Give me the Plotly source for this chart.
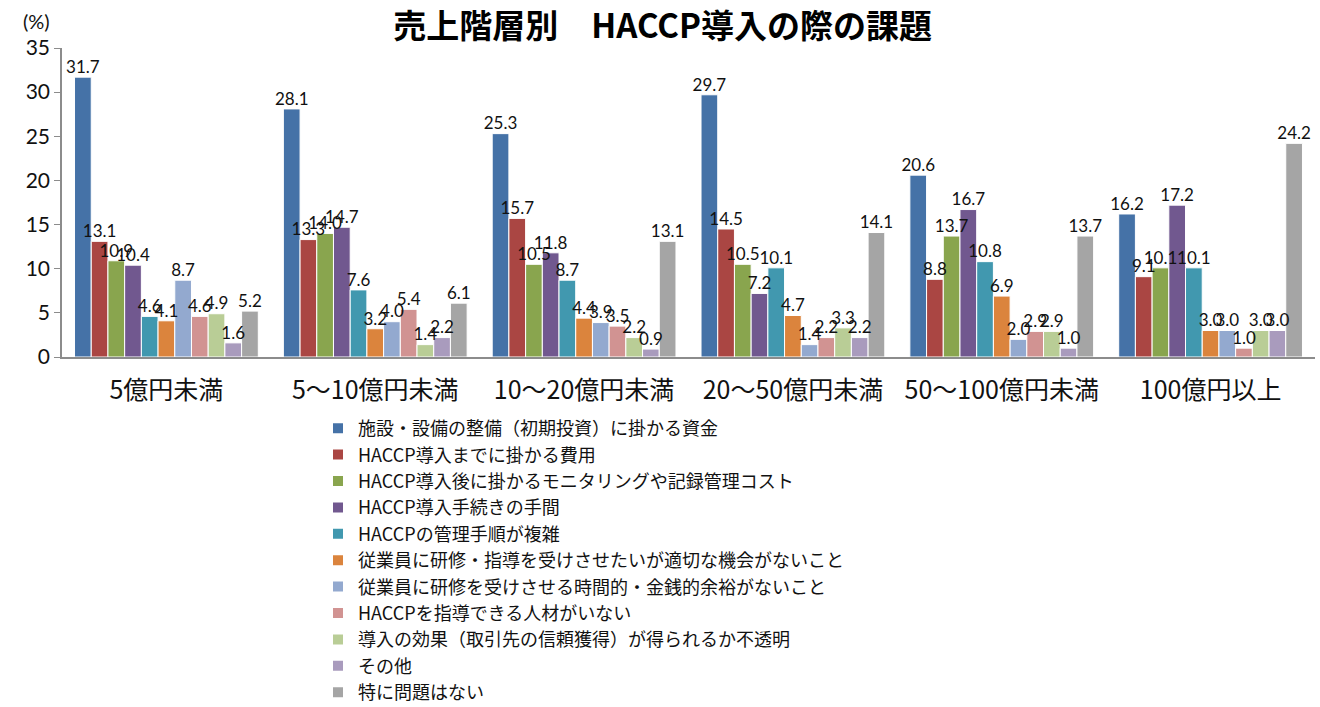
import plotly.graph_objects as go

categories = ["5億円未満", "5～10億円未満", "10～20億円未満", "20～50億円未満", "50～100億円未満", "100億円以上"]

series_names = [
    "施設・設備の整備（初期投資）に掛かる資金",
    "HACCP導入までに掛かる費用",
    "HACCP導入後に掛かるモニタリングや記録管理コスト",
    "HACCP導入手続きの手間",
    "HACCPの管理手順が複雑",
    "従業員に研修・指導を受けさせたいが適切な機会がないこと",
    "従業員に研修を受けさせる時間的・金銭的余裕がないこと",
    "HACCPを指導できる人材がいない",
    "導入の効果（取引先の信頼獲得）が得られるか不透明",
    "その他",
    "特に問題はない",
]

s1 = [31.7, 28.1, 25.3, 29.7, 20.6, 16.2]
s2 = [13.1, 13.3, 15.7, 14.5, 8.8, 9.1]
s3 = [10.9, 14.0, 10.5, 10.5, 13.7, 10.1]
s4 = [10.4, 14.7, 11.8, 7.2, 16.7, 17.2]
s5 = [4.6, 7.6, 8.7, 10.1, 10.8, 10.1]
s6 = [4.1, 3.2, 4.4, 4.7, 6.9, 3.0]
s7 = [8.7, 4.0, 3.9, 1.4, 2.0, 3.0]
s8 = [4.6, 5.4, 3.5, 2.2, 2.9, 1.0]
s9 = [4.9, 1.4, 2.2, 3.3, 2.9, 3.0]
s10 = [1.6, 2.2, 0.9, 2.2, 1.0, 3.0]
s11 = [5.2, 6.1, 13.1, 14.1, 13.7, 24.2]

series_values = [s1, s2, s3, s4, s5, s6, s7, s8, s9, s10, s11]

colors = ["#4572A7", "#AA4643", "#89A54E", "#71588F", "#4198AF", "#DB843D",
          "#93A9CF", "#D19392", "#B9CD96", "#A99BBD", "#A5A5A5"]

FONT = "Lato, 'Noto Sans CJK JP', sans-serif"
JFONT = "'Noto Sans CJK JP', sans-serif"

n_series = len(series_values)
group_frac = 0.88
bw = group_frac / n_series
cat_idx = list(range(len(categories)))

fig = go.Figure()
# bars (numeric positions: category index plus the series slot within the group)
for k, (name, vals, col) in enumerate(zip(series_names, series_values, colors)):
    xs = [i + (k - (n_series - 1) / 2) * bw for i in cat_idx]
    fig.add_trace(go.Bar(
        name=name, x=xs, y=vals, width=bw,
        marker=dict(color=col, line=dict(color="white", width=1)),
        hoverinfo="y",
    ))
# data labels drawn above all bars
for k, vals in enumerate(series_values):
    xs = [i + (k - (n_series - 1) / 2) * bw for i in cat_idx]
    fig.add_trace(go.Scatter(
        x=xs, y=vals, mode="text",
        text=[f"{v:.1f}" for v in vals],
        textposition="top center",
        textfont=dict(family=FONT, size=17, color="#111"),
        showlegend=False, hoverinfo="skip", cliponaxis=False,
    ))

plot_top, plot_bottom = 48, 357
ph = plot_bottom - plot_top

fig.update_layout(
    width=1320, height=707,
    margin=dict(l=62, r=5, t=plot_top, b=707 - plot_bottom),
    paper_bgcolor="white", plot_bgcolor="white",
    barmode="overlay",
    font=dict(family=FONT, color="#111"),
    title=dict(text="<b>売上階層別　HACCP導入の際の課題</b>", x=0.502, xanchor="center",
               y=1 - 26 / 707, yanchor="middle",
               font=dict(family=JFONT, size=33, color="#000")),
    showlegend=True,
    legend=dict(
        xref="paper", x=(318 - 62) / (1320 - 67), xanchor="left",
        yref="container", y=1 - 410 / 707, yanchor="top",
        orientation="v", traceorder="normal",
        font=dict(family=JFONT, size=18, color="#111"),
        bgcolor="rgba(0,0,0,0)", itemsizing="constant", tracegroupgap=0,
    ),
    xaxis=dict(
        range=[-0.5, len(categories) - 0.5],
        tickmode="array", tickvals=cat_idx, ticktext=categories,
        showline=True, linecolor="#8C8C8C", linewidth=1.5, showgrid=False, zeroline=False,
        ticks="", tickangle=0, tickfont=dict(family=JFONT, size=25, color="#111"),
        ticklabelstandoff=10,
    ),
    yaxis=dict(
        range=[0, 35], dtick=5, showgrid=False, zeroline=False,
        showline=True, linecolor="#8C8C8C", linewidth=1.5,
        ticks="outside", ticklen=6, tickcolor="#8C8C8C",
        tickfont=dict(family=FONT, size=21, color="#111"),
    ),
    annotations=[dict(text="(%)", xref="paper", yref="paper",
                      x=-(62 - 21) / 1253, xanchor="left",
                      y=1 + (48 - 21) / ph, yanchor="middle",
                      showarrow=False, font=dict(family=FONT, size=20, color="#111"))],
)

fig.write_html("out.html")
